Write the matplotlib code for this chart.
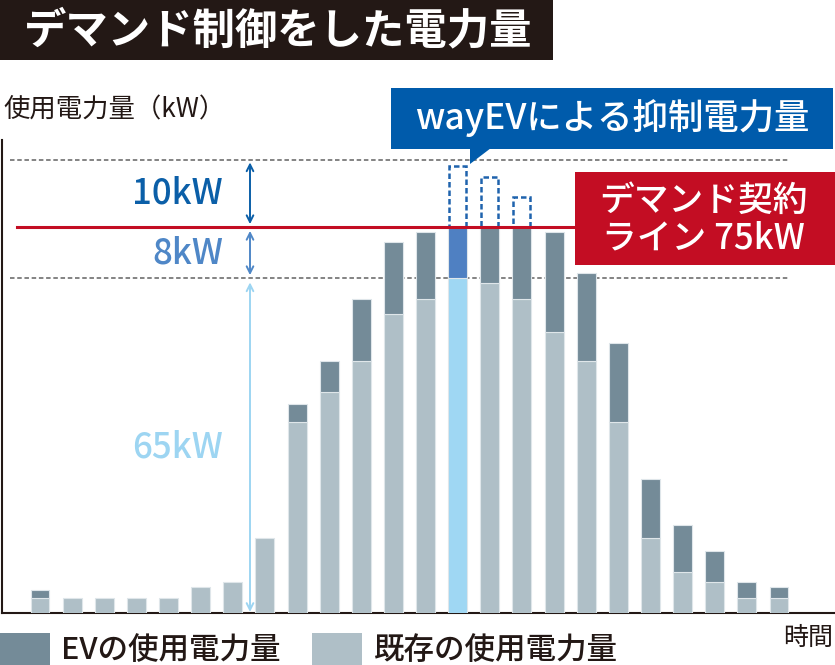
import matplotlib
matplotlib.use("Agg")
import matplotlib.pyplot as plt
from matplotlib.patches import Rectangle, Polygon

plt.rcParams['font.family'] = ['Noto Sans CJK JP', 'DejaVu Sans']

# ---- data (kW) ----
existing = [3, 3, 3, 3, 3, 5, 6, 14.5, 37, 43, 49, 58, 61, 65, 64, 61, 54.5, 49, 37, 14.5, 8, 6, 3, 3]
ev_use = [1.5, 0, 0, 0, 0, 0, 0, 0, 3.5, 6, 12, 14, 13, 10, 11, 14, 19.5, 17, 15.5, 11.5, 9, 6, 3, 2]
highlight_index = 13
suppressed_top = {13: 86.8, 14: 84.7, 15: 80.8}   # uncontrolled peak (dashed boxes)
contract_line = 75
base_line = 65
upper_line = 88
labels_gap = ["10kW", "8kW", "65kW"]

title = "デマンド制御をした電力量"
ylabel = "使用電力量（kW）"
xlabel = "時間"
callout = "wayEVによる抑制電力量"
contract_text = "デマンド契約\nライン 75kW"
legend_labels = ["EVの使用電力量", "既存の使用電力量"]

# ---- colors ----
c_ev = "#748b98"
c_exist = "#afbfc7"
c_hi_exist = "#9fd7f3"
c_hi_ev = "#4f80c2"
c_red = "#c30d23"
c_blue = "#005bab"
c_dark = "#231815"

W, H = 835, 665
fig = plt.figure(figsize=(W / 100, H / 100), dpi=100)

def fx(p):
    return p / W

def fy(p):
    return 1 - p / H

# axes in pixel layout
ax_l, ax_r, ax_t, ax_b = 2, 835, 140, 613
ax = fig.add_axes([fx(ax_l), fy(ax_b), fx(ax_r - ax_l), (ax_b - ax_t) / H])
px_per_x = 32.13
x0 = 40
ax.set_xlim((ax_l - x0) / px_per_x, (ax_r - x0) / px_per_x)
ax.set_ylim(0, (ax_b - ax_t) / 5.15)

n = len(existing)
xs = list(range(n))
bw = 0.59
ec = "#dfe6ea"
for i in xs:
    ce = c_hi_exist if i == highlight_index else c_exist
    cv = c_hi_ev if i == highlight_index else c_ev
    ax.bar(i, existing[i], width=bw, color=ce, edgecolor=ec, linewidth=0.8, zorder=3)
    if ev_use[i] > 0:
        ax.bar(i, ev_use[i], bottom=existing[i], width=bw, color=cv, edgecolor=ec,
               linewidth=0.8, zorder=3)

for i, top in suppressed_top.items():
    ax.add_patch(Rectangle((i - bw / 2 + 0.03, contract_line), bw - 0.06, top - contract_line,
                           fill=False, edgecolor="#1f63ad", linestyle=(0, (2.2, 1.2)),
                           linewidth=1.8, zorder=4))

# reference lines
xf0 = (10 - ax_l) / (ax_r - ax_l)
xf1 = (790 - ax_l) / (ax_r - ax_l)
for yv in (upper_line, base_line):
    ax.axhline(yv, xf0, xf1, color="#7a7a7a", linestyle=(0, (2.5, 1.5)), linewidth=1.3, zorder=2)
ax.axhline(contract_line, (17 - ax_l) / (ax_r - ax_l), (580 - ax_l) / (ax_r - ax_l),
           color=c_red, linewidth=2.2, zorder=5)

# spines
for s in ("top", "right"):
    ax.spines[s].set_visible(False)
ax.spines["left"].set_color(c_dark)
ax.spines["bottom"].set_color(c_dark)
ax.spines["left"].set_linewidth(1.5)
ax.spines["bottom"].set_linewidth(1.5)
ax.set_xticks([])
ax.set_yticks([])

# arrows
xa = (250 - x0) / px_per_x
arrow_specs = [
    (upper_line - 0.5, contract_line + 0.5, "#0b5fa8", labels_gap[0]),
    (contract_line - 0.8, base_line + 0.6, "#4f87c7", labels_gap[1]),
    (base_line - 0.8, 0.2, "#9dd5f2", labels_gap[2]),
]
xl = (223 - x0) / px_per_x
for top, bot, col, lab in arrow_specs:
    ax.annotate("", xy=(xa, top), xytext=(xa, bot),
                arrowprops=dict(arrowstyle="<->", color=col, lw=1.4,
                                mutation_scale=12, shrinkA=0, shrinkB=0), zorder=6)
    ax.text(xl, (top + bot) / 2, lab, color=col, fontsize=25, fontweight="medium",
            ha="right", va="center", zorder=6)

# title box
fig.patches.append(Rectangle((0, fy(60)), fx(553), 60 / H, transform=fig.transFigure,
                             facecolor=c_dark, edgecolor="none"))
fig.text(fx(24), fy(31), title, color="white", fontsize=30.5, fontweight="bold",
         ha="left", va="center")

# y label
fig.text(fx(3), fy(110), ylabel, color=c_dark, fontsize=19, ha="left", va="center")

# callout box (blue)
fig.patches.append(Rectangle((fx(391), fy(149)), fx(833 - 391), 61 / H, transform=fig.transFigure,
                             facecolor=c_blue, edgecolor="none", zorder=5))
fig.patches.append(Polygon([(fx(470), fy(148)), (fx(491), fy(148)), (fx(470), fy(164))],
                           closed=True, transform=fig.transFigure, facecolor=c_blue,
                           edgecolor="none", zorder=5))
fig.text(fx(612), fy(118), callout, color="white", fontsize=25.5, fontweight="medium",
         ha="center", va="center", zorder=6)

# contract box (red)
fig.patches.append(Rectangle((fx(575), fy(265)), fx(835 - 575), 93 / H, transform=fig.transFigure,
                             facecolor=c_red, edgecolor="none", zorder=5))
fig.text(fx(703), fy(220), contract_text, color="white", fontsize=25, fontweight="medium",
         ha="center", va="center", linespacing=1.05, zorder=6)

# x label
fig.text(fx(833), fy(638), xlabel, color=c_dark, fontsize=18, ha="right", va="center")

# legend
fig.patches.append(Rectangle((fx(0), fy(665)), fx(50), 32 / H, transform=fig.transFigure,
                             facecolor=c_ev, edgecolor="none"))
fig.text(fx(61), fy(650), legend_labels[0], color=c_dark, fontsize=22, fontweight="medium",
         ha="left", va="center")
fig.patches.append(Rectangle((fx(312), fy(665)), fx(50), 32 / H, transform=fig.transFigure,
                             facecolor=c_exist, edgecolor="none"))
fig.text(fx(373), fy(650), legend_labels[1], color=c_dark, fontsize=22, fontweight="medium",
         ha="left", va="center")

fig.savefig("out.png", dpi=100, facecolor="white")
